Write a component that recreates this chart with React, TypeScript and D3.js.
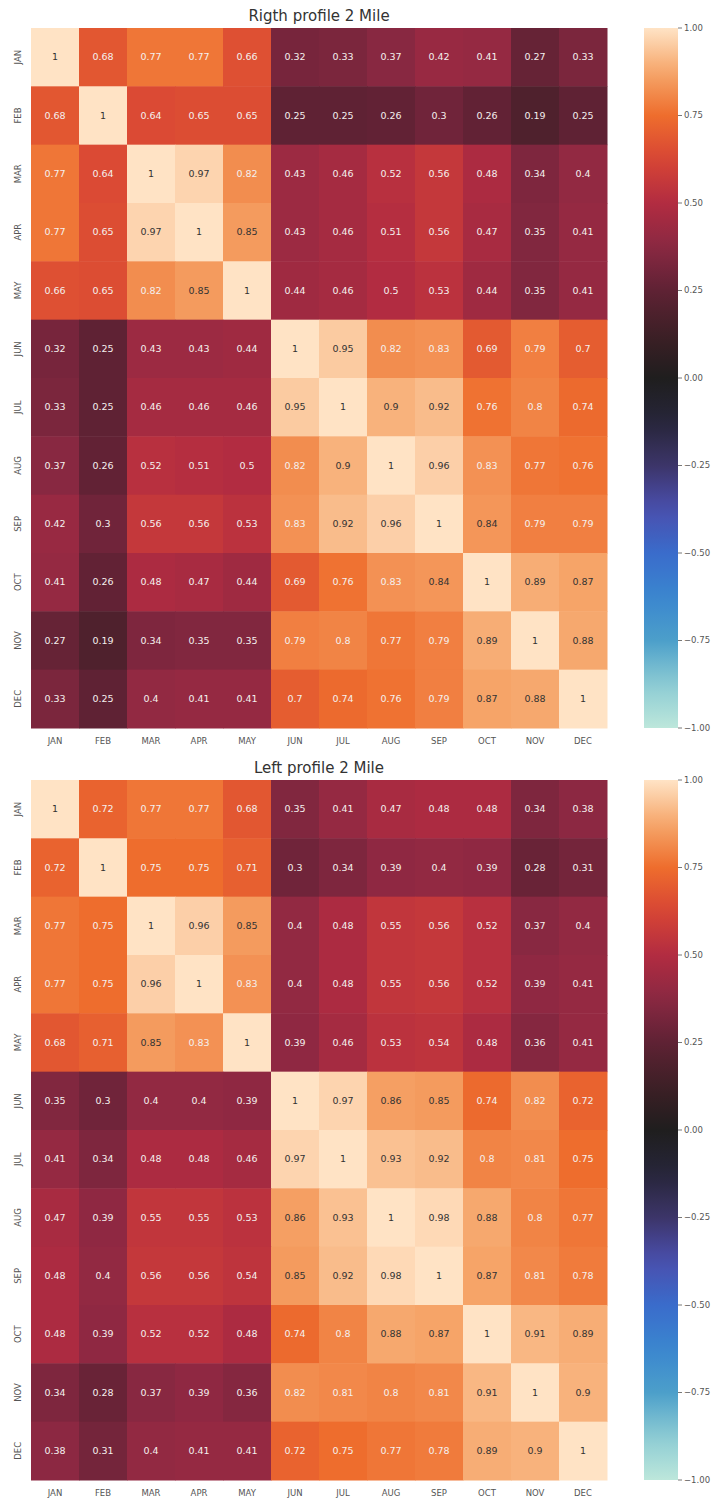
import React from 'react';
import * as d3 from 'd3';

const months = ['JAN', 'FEB', 'MAR', 'APR', 'MAY', 'JUN', 'JUL', 'AUG', 'SEP', 'OCT', 'NOV', 'DEC'];

const rightValues = [
  [1, 0.68, 0.77, 0.77, 0.66, 0.32, 0.33, 0.37, 0.42, 0.41, 0.27, 0.33],
  [0.68, 1, 0.64, 0.65, 0.65, 0.25, 0.25, 0.26, 0.3, 0.26, 0.19, 0.25],
  [0.77, 0.64, 1, 0.97, 0.82, 0.43, 0.46, 0.52, 0.56, 0.48, 0.34, 0.4],
  [0.77, 0.65, 0.97, 1, 0.85, 0.43, 0.46, 0.51, 0.56, 0.47, 0.35, 0.41],
  [0.66, 0.65, 0.82, 0.85, 1, 0.44, 0.46, 0.5, 0.53, 0.44, 0.35, 0.41],
  [0.32, 0.25, 0.43, 0.43, 0.44, 1, 0.95, 0.82, 0.83, 0.69, 0.79, 0.7],
  [0.33, 0.25, 0.46, 0.46, 0.46, 0.95, 1, 0.9, 0.92, 0.76, 0.8, 0.74],
  [0.37, 0.26, 0.52, 0.51, 0.5, 0.82, 0.9, 1, 0.96, 0.83, 0.77, 0.76],
  [0.42, 0.3, 0.56, 0.56, 0.53, 0.83, 0.92, 0.96, 1, 0.84, 0.79, 0.79],
  [0.41, 0.26, 0.48, 0.47, 0.44, 0.69, 0.76, 0.83, 0.84, 1, 0.89, 0.87],
  [0.27, 0.19, 0.34, 0.35, 0.35, 0.79, 0.8, 0.77, 0.79, 0.89, 1, 0.88],
  [0.33, 0.25, 0.4, 0.41, 0.41, 0.7, 0.74, 0.76, 0.79, 0.87, 0.88, 1],
];

const leftValues = [
  [1, 0.72, 0.77, 0.77, 0.68, 0.35, 0.41, 0.47, 0.48, 0.48, 0.34, 0.38],
  [0.72, 1, 0.75, 0.75, 0.71, 0.3, 0.34, 0.39, 0.4, 0.39, 0.28, 0.31],
  [0.77, 0.75, 1, 0.96, 0.85, 0.4, 0.48, 0.55, 0.56, 0.52, 0.37, 0.4],
  [0.77, 0.75, 0.96, 1, 0.83, 0.4, 0.48, 0.55, 0.56, 0.52, 0.39, 0.41],
  [0.68, 0.71, 0.85, 0.83, 1, 0.39, 0.46, 0.53, 0.54, 0.48, 0.36, 0.41],
  [0.35, 0.3, 0.4, 0.4, 0.39, 1, 0.97, 0.86, 0.85, 0.74, 0.82, 0.72],
  [0.41, 0.34, 0.48, 0.48, 0.46, 0.97, 1, 0.93, 0.92, 0.8, 0.81, 0.75],
  [0.47, 0.39, 0.55, 0.55, 0.53, 0.86, 0.93, 1, 0.98, 0.88, 0.8, 0.77],
  [0.48, 0.4, 0.56, 0.56, 0.54, 0.85, 0.92, 0.98, 1, 0.87, 0.81, 0.78],
  [0.48, 0.39, 0.52, 0.52, 0.48, 0.74, 0.8, 0.88, 0.87, 1, 0.91, 0.89],
  [0.34, 0.28, 0.37, 0.39, 0.36, 0.82, 0.81, 0.8, 0.81, 0.91, 1, 0.9],
  [0.38, 0.31, 0.4, 0.41, 0.41, 0.72, 0.75, 0.77, 0.78, 0.89, 0.9, 1],
];

const colorbarTicks = [1, 0.75, 0.5, 0.25, 0, -0.25, -0.5, -0.75, -1];

// approximation of seaborn "icefire"
const cmapStops = [-1, -0.875, -0.75, -0.625, -0.5, -0.375, -0.25, -0.125, 0, 0.125, 0.25, 0.375, 0.5, 0.625, 0.75, 0.875, 1];
const cmapColors = [
  '#bde7db', '#8ccbd3', '#4c9fca', '#3a86cf', '#3a6ccb', '#4a4fae', '#3c3569', '#27253a',
  '#1f1e1e', '#3d1f26', '#5f2234', '#8a2842', '#b22c41', '#d84535', '#ee6d2d', '#f6a66a', '#ffe3c5',
];
const color = d3.scaleLinear<string>().domain(cmapStops).range(cmapColors).interpolate(d3.interpolateRgb);

const luminance = (c: string) => {
  const { r, g, b } = d3.rgb(c);
  const f = (v: number) => {
    const s = v / 255;
    return s <= 0.03928 ? s / 12.92 : Math.pow((s + 0.055) / 1.055, 2.4);
  };
  return 0.2126 * f(r) + 0.7152 * f(g) + 0.0722 * f(b);
};

const font = 'DejaVu Sans, sans-serif';

const Heatmap = ({ title, values, top, id }: { title: string; values: number[][]; top: number; id: string }) => {
  const left = 31;
  const width = 576;
  const height = 700;
  const x = d3.scaleBand().domain(months).range([left, left + width]);
  const y = d3.scaleBand().domain(months).range([top, top + height]);
  const cbX = 644;
  const cbW = 34;
  const cbY = d3.scaleLinear().domain([-1, 1]).range([top + height, top]);
  const gradStops = d3.range(0, 41).map((i) => -1 + (i * 2) / 40);

  return (
    <g>
      <defs>
        <linearGradient id={id} x1="0" y1="1" x2="0" y2="0">
          {gradStops.map((v) => (
            <stop key={v} offset={(v + 1) / 2} stopColor={color(v)} />
          ))}
        </linearGradient>
      </defs>
      <text x={left + width / 2} y={top - 7} textAnchor="middle" fontSize={15} fill="#333" fontFamily={font}>
        {title}
      </text>
      {values.map((row, i) =>
        row.map((v, j) => {
          const c = color(v);
          return (
            <g key={`${i}-${j}`}>
              <rect x={x(months[j])} y={y(months[i])} width={x.bandwidth() + 0.5} height={y.bandwidth() + 0.5} fill={c} />
              <text
                x={x(months[j])! + x.bandwidth() / 2}
                y={y(months[i])! + y.bandwidth() / 2}
                dy="0.35em"
                textAnchor="middle"
                fontSize={9.5}
                fontFamily={font}
                fill={luminance(c) > 0.408 ? '#333' : '#f4f0ee'}
              >
                {String(v)}
              </text>
            </g>
          );
        })
      )}
      {months.map((m) => (
        <text
          key={'x' + m}
          x={x(m)! + x.bandwidth() / 2}
          y={top + height + 16}
          textAnchor="middle"
          fontSize={8.5}
          fill="#555"
          fontFamily={font}
        >
          {m}
        </text>
      ))}
      {months.map((m) => {
        const cy = y(m)! + y.bandwidth() / 2;
        return (
          <text
            key={'y' + m}
            transform={`translate(21,${cy}) rotate(-90)`}
            textAnchor="middle"
            fontSize={8.5}
            fill="#555"
            fontFamily={font}
          >
            {m}
          </text>
        );
      })}
      <rect x={cbX} y={top} width={cbW} height={height} fill={`url(#${id})`} />
      {colorbarTicks.map((t) => (
        <g key={'t' + t}>
          <line x1={cbX + cbW} x2={cbX + cbW + 4} y1={cbY(t)} y2={cbY(t)} stroke="#555" strokeWidth={0.8} />
          <text x={cbX + cbW + 6} y={cbY(t)} dy="0.35em" fontSize={8.5} fill="#555" fontFamily={font}>
            {d3.format('.2f')(t).replace('-', '\u2212')}
          </text>
        </g>
      ))}
    </g>
  );
};

export default function App() {
  return (
    <svg width={720} height={1502} style={{ position: 'absolute', left: 0, top: 0, background: 'white' }}>
      <rect width={720} height={1502} fill="white" />
      <Heatmap title="Rigth profile 2 Mile" values={rightValues} top={28} id="cb1" />
      <Heatmap title="Left profile 2 Mile" values={leftValues} top={780} id="cb2" />
    </svg>
  );
}
